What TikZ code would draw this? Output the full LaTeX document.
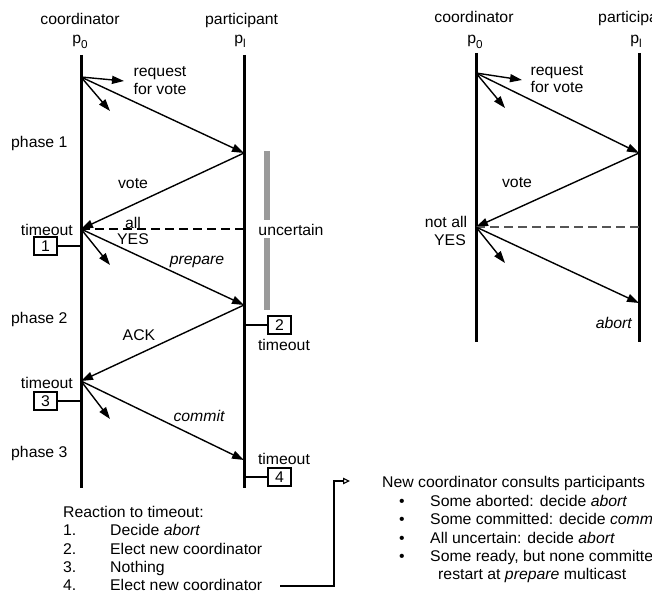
\documentclass[tikz,border=0pt]{standalone}
\usepackage{fontspec}
\setmainfont{Liberation Sans}[FakeStretch=1.02]
\usetikzlibrary{arrows.meta}
\definecolor{bargray}{HTML}{9A9A9A}
\definecolor{dashgray}{HTML}{555555}
\begin{document}
\begin{tikzpicture}[x=1pt,y=-1pt,
  every node/.style={font=\fontsize{15.5}{18}\selectfont, inner sep=0pt},
  life/.style={line width=3pt},
  msg/.style={line width=1.4pt,-{Triangle[length=12pt,width=8pt]}},
  tbox/.style={draw,line width=1.1pt,minimum width=23pt,minimum height=18pt,inner sep=0pt},
  tickline/.style={line width=1.3pt},
  dashline/.style={line width=1.3pt,dash pattern=on 9pt off 5pt},
  lbl/.style={anchor=base,yshift=-6pt},
  lblw/.style={anchor=base west,yshift=-6pt},
  lble/.style={anchor=base east,yshift=-6pt},
]
\useasboundingbox (0,0) rectangle (652,596);
\clip (0,0) rectangle (652,596);

% ---------------- left diagram ----------------
\node[lbl] (hc) at (80,19) {coordinator};
\node[lblw] (hp) at (205,19) {participant};
\node[lbl] (p0) at (80,38) {p\raisebox{-5pt}{\fontsize{11.5}{11.5}\selectfont 0}};
\node[lbl] (pl) at (240,38) {p\raisebox{-4pt}{\fontsize{11.5}{11.5}\selectfont l}};

\coordinate (L0t) at (81,55);  \coordinate (L0b) at (81,488);
\coordinate (L1t) at (244,55); \coordinate (L1b) at (244,488);
\draw[life] (L0t) -- (L0b);
\draw[life] (L1t) -- (L1b);

\coordinate (A1) at (81,77);
\coordinate (B1) at (244,153);
\coordinate (A2) at (81,229);
\coordinate (B2) at (244,305);
\coordinate (A3) at (81,381);
\coordinate (B3) at (244,460);
\coordinate (s1) at (124,81);
\coordinate (s2) at (110,111);
\coordinate (s3) at (110,265);
\coordinate (s4) at (110,419);
\coordinate (D2) at (244,229);

\draw[msg] (A1) -- (s1);
\draw[msg] (A1) -- (s2);
\draw[msg] (A1) -- (B1);
\draw[msg] (B1) -- (A2);
\draw[dashline] (A2) -- (D2);
\draw[msg] (A2) -- (s3);
\draw[msg] (A2) -- (B2);
\draw[msg] (B2) -- (A3);
\draw[msg] (A3) -- (s4);
\draw[msg] (A3) -- (B3);

\node[lbl] (rq1) at (160,71) {request};
\node[lbl] (rq2) at (160,89) {for vote};
\node[lbl] (vt) at (133,182) {vote};
\node[lbl] (al) at (133,222) {all};
\node[lbl] (ys) at (133,238) {YES};
\node[lbl] (pr) at (197,258) {\itshape prepare};
\node[lbl] (ak) at (139,334) {ACK};
\node[lbl] (cm) at (199,415) {\itshape commit};

\node[lblw] (ph1) at (11,142) {phase 1};
\node[lblw] (ph2) at (11,317) {phase 2};
\node[lblw] (ph3) at (11,451) {phase 3};

\node[lble] (to1) at (73,229) {timeout};
\node[lble] (to3) at (73,382) {timeout};
\node[lbl] (to2) at (284,344) {timeout};
\node[lbl] (to4) at (284,458) {timeout};

\node[tbox] (bx1) at (45.5,246) {1};
\node[tbox] (bx2) at (279.5,325) {2};
\node[tbox] (bx3) at (45.5,401) {3};
\node[tbox] (bx4) at (279.5,477) {4};
\coordinate (T1) at (81,246);
\coordinate (T2) at (244,325);
\coordinate (T3) at (81,401);
\coordinate (T4) at (244,477);
\draw[tickline] (bx1.east) -- (T1);
\draw[tickline] (T2) -- (bx2.west);
\draw[tickline] (bx3.east) -- (T3);
\draw[tickline] (T4) -- (bx4.west);

\fill[bargray] (264,151) rectangle (270,220);
\fill[bargray] (264,238) rectangle (270,310);
\node[lbl] (unc) at (291,229) {uncertain};

% ---------------- bottom text ----------------
\node[lblw] (r0) at (63,511) {Reaction to timeout:};
\node[lblw] (n1) at (63,529) {1.};
\node[lblw] (n2) at (63,548) {2.};
\node[lblw] (n3) at (63,566) {3.};
\node[lblw] (n4) at (63,584) {4.};
\node[lblw] (r1) at (110,529) {Decide \textit{abort}};
\node[lblw] (r2) at (110,548) {Elect new coordinator};
\node[lblw] (r3) at (110,566) {Nothing};
\node[lblw] (r4) at (110,584) {Elect new coordinator};

\node[lblw] (nc) at (382,481) {New coordinator consults participants};
\coordinate (k1) at (280,586);
\coordinate (k2) at (350,481);
\draw[line width=1.2pt,-{Triangle[open,length=7pt,width=6.5pt,line width=1.1pt]}] (k1) -- ++(54,0) |- (k2);

\node[lbl] (bu1) at (402,500) {•};
\node[lbl] (bu2) at (402,518) {•};
\node[lbl] (bu3) at (402,537) {•};
\node[lbl] (bu4) at (402,555) {•};
\node[lblw] (t1) at (430,500) {Some aborted: decide \textit{abort}};
\node[lblw] (t2) at (430,518) {Some committed: decide \textit{commit}};
\node[lblw] (t3) at (430,537) {All uncertain: decide \textit{abort}};
\node[lblw] (t4) at (430,555) {Some ready, but none committed:};
\node[lblw] (t5) at (438,573) {restart at \textit{prepare} multicast};

% ---------------- right diagram ----------------
\node[lbl] (rhc) at (474,17) {coordinator};
\node[lblw] (rhp) at (598,17) {participant};
\node[lbl] (rp0) at (475,38) {p\raisebox{-5pt}{\fontsize{11.5}{11.5}\selectfont 0}};
\node[lbl] (rpl) at (636,38) {p\raisebox{-4pt}{\fontsize{11.5}{11.5}\selectfont l}};

\coordinate (R0t) at (476,53);  \coordinate (R0b) at (476,342);
\coordinate (R1t) at (639,53);  \coordinate (R1b) at (639,342);
\draw[life] (R0t) -- (R0b);
\draw[life] (R1t) -- (R1b);

\coordinate (RA1) at (476,73);
\coordinate (RB1) at (639,153);
\coordinate (RA2) at (476,227);
\coordinate (RB2) at (639,303);
\coordinate (rs1) at (522,80);
\coordinate (rs2) at (505,108);
\coordinate (rs3) at (505,263);
\coordinate (RD2) at (639,227);

\draw[msg] (RA1) -- (rs1);
\draw[msg] (RA1) -- (rs2);
\draw[msg] (RA1) -- (RB1);
\draw[msg] (RB1) -- (RA2);
\draw[dashline,dashgray] (RA2) -- (RD2);
\draw[msg] (RA2) -- (rs3);
\draw[msg] (RA2) -- (RB2);

\node[lbl] (rrq1) at (557,70) {request};
\node[lbl] (rrq2) at (557,87) {for vote};
\node[lbl] (rvt) at (517,181) {vote};
\node[lbl] (nay1) at (446,221) {not all};
\node[lbl] (nay2) at (450,239) {YES};
\node[lble] (rab) at (632,322) {\itshape abort};
\end{tikzpicture}
\end{document}
